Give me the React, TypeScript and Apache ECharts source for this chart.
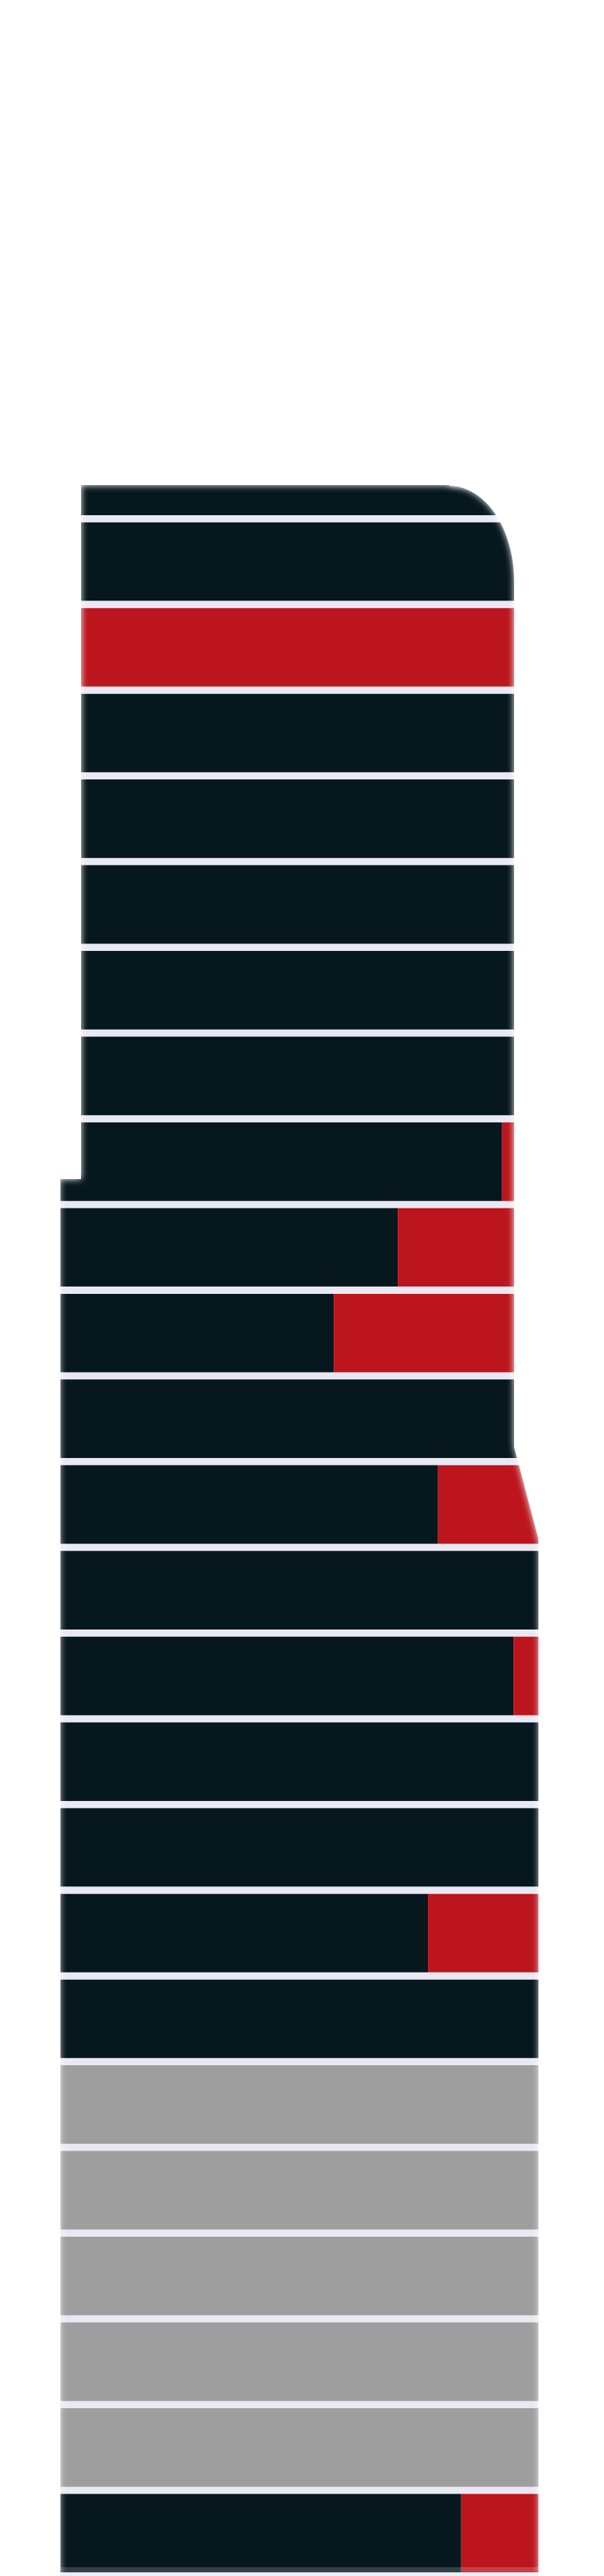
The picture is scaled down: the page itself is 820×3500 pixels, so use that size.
import React, { useEffect, useRef } from "react";
import * as echarts from "echarts";

// Rows from top to bottom
const categories = [
  "1", "2", "3", "4", "5", "6", "7", "8", "9", "10",
  "11", "12", "13", "14", "15", "16", "17", "18", "19", "20",
  "21", "22", "23", "24", "25",
];

const darkValues = [
  100, 100, 0, 100, 100, 100, 100, 100, 92.4, 70.6,
  57.2, 100, 79.0, 100, 94.8, 100, 100, 76.9, 100, null,
  null, null, null, null, 83.8,
];

const redValues = [
  0, 0, 100, 0, 0, 0, 0, 0, 7.6, 29.4,
  42.8, 0, 21.0, 0, 5.2, 0, 0, 23.1, 0, null,
  null, null, null, null, 16.2,
];

const grayValues = [
  null, null, null, null, null, null, null, null, null, null,
  null, null, null, null, null, null, null, null, null, 100,
  100, 100, 100, 100, null,
];

const DARK = "#06171e";
const RED = "#bc151d";
const GRAY = "#9e9e9e";
const SEP = "#e9e9f3";

function cornerPoints(): number[][] {
  // right-hand mask outline with an elliptical top-right corner
  const pts: number[][] = [];
  pts.push([820, 0]);
  pts.push([820, 3500]);
  pts.push([732, 3500]);
  pts.push([732, 2095]);
  pts.push([698, 1966]);
  const cx = 610, cy = 790, rx = 88, ry = 130;
  for (let k = 0; k <= 24; k++) {
    const a = (k / 24) * (Math.PI / 2);
    pts.push([cx + rx * Math.cos(a), cy - ry * Math.sin(a)]);
  }
  pts.push([610, 0]);
  return pts;
}

export default function App() {
  const ref = useRef<HTMLDivElement>(null);

  useEffect(() => {
    if (!ref.current) return;
    const chart = echarts.init(ref.current, null, { renderer: "svg" });
    const maskStyle = {
      fill: "#ffffff",
      shadowBlur: 10,
      shadowColor: "rgba(255,255,255,1)",
    };
    const pitch = 3500 / 30;
    chart.setOption({
      animation: false,
      backgroundColor: "#ffffff",
      grid: {
        left: 82,
        top: 5 + pitch * 5,
        width: 649,
        height: pitch * 25,
        show: true,
        backgroundColor: SEP,
        borderWidth: 0,
        containLabel: false,
      },
      xAxis: {
        type: "value",
        min: 0,
        max: 100,
        show: false,
      },
      yAxis: {
        type: "category",
        data: categories,
        inverse: true,
        show: false,
      },
      series: [
        {
          name: "dark",
          type: "bar",
          stack: "total",
          data: darkValues,
          barWidth: pitch - 10,
          itemStyle: { color: DARK },
          silent: true,
        },
        {
          name: "red",
          type: "bar",
          stack: "total",
          data: redValues,
          barWidth: pitch - 10,
          itemStyle: { color: RED },
          silent: true,
        },
        {
          name: "gray",
          type: "bar",
          stack: "total",
          data: grayValues,
          barWidth: pitch - 10,
          itemStyle: { color: GRAY },
          silent: true,
        },
      ],
      graphic: [
        { type: "rect", silent: true, z: 100, shape: { x: 0, y: 0, width: 820, height: 659 }, style: maskStyle },
        { type: "rect", silent: true, z: 100, shape: { x: 0, y: 0, width: 110, height: 1602 }, style: maskStyle },
        { type: "rect", silent: true, z: 100, shape: { x: 0, y: 0, width: 81, height: 3500 }, style: maskStyle },
        { type: "polygon", silent: true, z: 100, shape: { points: cornerPoints() }, style: maskStyle },
        { type: "rect", silent: true, z: 100, shape: { x: 0, y: 3488, width: 820, height: 12 }, style: { fill: "rgba(255,255,255,0.18)" } },
      ],
    });
    return () => chart.dispose();
  }, []);

  return (
    <div
      ref={ref}
      style={{ position: "absolute", left: 0, top: 0, width: 820, height: 3500 }}
    />
  );
}
